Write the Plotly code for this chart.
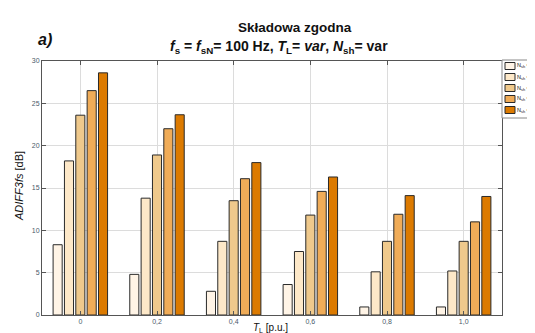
import plotly.graph_objects as go

categories = ["0", "0,2", "0,4", "0,6", "0,8", "1,0"]
series_names = ["N<sub>sh</sub> = 1", "N<sub>sh</sub> = 2", "N<sub>sh</sub> = 3", "N<sub>sh</sub> = 4", "N<sub>sh</sub> = 5"]
nsh1 = [8.3, 4.8, 2.8, 3.6, 0.95, 0.95]
nsh2 = [18.2, 13.8, 8.7, 7.5, 5.1, 5.2]
nsh3 = [23.6, 18.9, 13.5, 11.8, 8.7, 8.7]
nsh4 = [26.5, 22.0, 16.1, 14.6, 11.9, 11.0]
nsh5 = [28.6, 23.65, 18.0, 16.3, 14.1, 14.0]
series_values = [nsh1, nsh2, nsh3, nsh4, nsh5]
colors = ["#FFF4E6", "#FDE8C8", "#EFC98C", "#F0AC58", "#DC7A00"]
y_ticks = [0, 5, 10, 15, 20, 25, 30]

W, H = 535, 333
L, R, T, B = 34, 41, 53, 26
pw, ph = W - L - R, H - T - B

def px(x):
    return (x - L) / pw

def py(y):
    return (H - B - y) / ph

fig = go.Figure()
for name, vals, c in zip(series_names, series_values, colors):
    fig.add_trace(go.Bar(
        x=categories, y=vals, name=name,
        marker=dict(color=c, line=dict(color="#2a2a2a", width=1)),
        showlegend=False,
    ))

tickfont = dict(family="Liberation Sans, Arial", size=7, color="#4a5a6a")
fig.update_layout(
    width=W, height=H,
    margin=dict(l=L, r=R, t=T, b=B),
    paper_bgcolor="white", plot_bgcolor="white",
    barmode="group", bargap=0.26, bargroupgap=0.2,
    xaxis=dict(
        type="category", range=[-0.5, 5.5],
        showgrid=True, gridcolor="#dcdcdc", gridwidth=1,
        showline=True, linecolor="#555", linewidth=1, mirror="ticks",
        ticks="inside", ticklen=4, tickcolor="#555",
        tickfont=tickfont,
    ),
    yaxis=dict(
        range=[0, 30], tickvals=y_ticks, ticktext=[str(v) for v in y_ticks],
        showgrid=True, gridcolor="#dcdcdc", gridwidth=1,
        showline=True, linecolor="#555", linewidth=1, mirror="ticks",
        ticks="inside", ticklen=4, tickcolor="#555",
        tickfont=tickfont, zeroline=False,
    ),
    font=dict(family="Liberation Sans, Arial", color="#111"),
)

ann = []
ann.append(dict(text="<b>Składowa zgodna</b>", x=px(287), y=py(19), xref="paper", yref="paper",
                showarrow=False, font=dict(size=13.5, color="#111"), xanchor="center", yanchor="middle"))
ann.append(dict(text="<b><i>f</i><sub>s</sub> = <i>f</i><sub>sN</sub>= 100 Hz, <i>T</i><sub>L</sub>= <i>var</i>, <i>N</i><sub>sh</sub>= var</b>",
                x=px(271), y=py(39), xref="paper", yref="paper",
                showarrow=False, font=dict(size=14, color="#111"), xanchor="center", yanchor="middle"))
ann.append(dict(text="<b><i>a)</i></b>", x=px(37), y=py(32), xref="paper", yref="paper",
                showarrow=False, font=dict(size=16, color="#111"), xanchor="center", yanchor="middle"))
ann.append(dict(text="<i>T</i><sub>L</sub> [p.u.]", x=px(262), y=py(320), xref="paper", yref="paper",
                showarrow=False, font=dict(size=10, color="#111"), xanchor="center", yanchor="middle"))
ann.append(dict(text="<i>ADIFF3fs</i> [dB]", x=px(11), y=py(178), xref="paper", yref="paper",
                showarrow=False, textangle=-90, font=dict(size=11, color="#111"), xanchor="center", yanchor="middle"))

shapes = []
# legend box
shapes.append(dict(type="rect", xref="paper", yref="paper", x0=px(494), x1=px(540), y0=py(52), y1=py(110),
                   line=dict(color="#888", width=1), fillcolor="white"))
row_y = [58, 69, 80, 91, 102]
for name, c, ry in zip(series_names, colors, row_y):
    shapes.append(dict(type="rect", xref="paper", yref="paper", x0=px(497), x1=px(507),
                       y0=py(ry + 3.5), y1=py(ry - 3.5), line=dict(color="#2a2a2a", width=1), fillcolor=c))
    ann.append(dict(text=name, x=px(508), y=py(ry), xref="paper", yref="paper", borderpad=0,
                    showarrow=False, font=dict(size=5.5, color="#111"), xanchor="left", yanchor="middle"))

fig.update_layout(annotations=ann, shapes=shapes)
fig.write_html("out.html")
